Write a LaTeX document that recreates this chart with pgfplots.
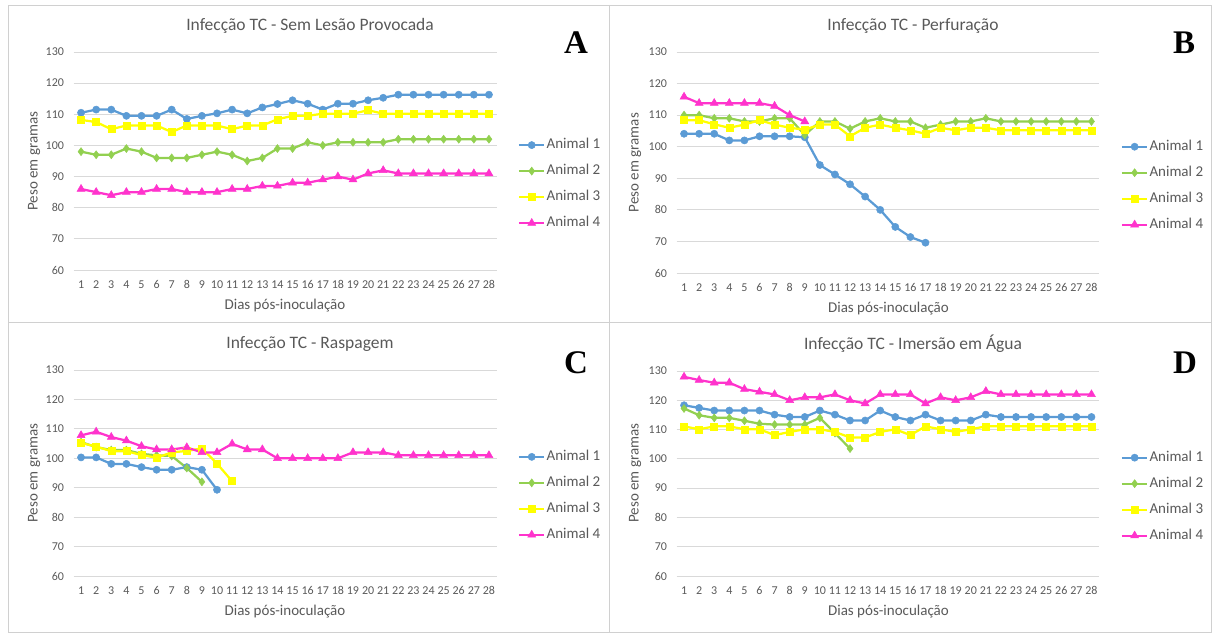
\documentclass[border=0pt]{standalone}
\usepackage{fontspec}
\setmainfont{Carlito}
\newfontfamily\letterfont{Liberation Serif}
\usepackage{pgfplots}
\pgfplotsset{compat=1.18}
\definecolor{c1}{HTML}{5B9BD5}
\definecolor{c2}{HTML}{92D050}
\definecolor{c3}{HTML}{FFFF00}
\definecolor{c4}{HTML}{FF33CC}
\definecolor{txt}{HTML}{595959}
\definecolor{gridc}{HTML}{D9D9D9}
\definecolor{borderc}{HTML}{D0D0D0}
\newcommand\fs[1]{\fontsize{#1}{#1}\selectfont}
\pgfplotsset{
  panel/.style={
    scale only axis, anchor=south west,
    xmin=0.5, xmax=28.5, ymin=60, ymax=130,
    xtick={1,...,28}, ytick={60,70,...,130},
    ymajorgrids, grid style={draw=gridc, line width=0.9pt},
    axis line style={draw=none}, major tick length=0pt,
    tick label style={font=\fs{12}, text=txt},
    /pgf/number format/assume math mode=true,
    yticklabel style={xshift=-6pt},
    xticklabel style={yshift=-7pt},
    clip=false,
    legend cell align=left,
    legend style={draw=none, fill=none, font=\fs{15}, text=txt, anchor=west,
      inner sep=0pt, row sep=0pt,
      nodes={inner xsep=1pt, inner ysep=5.5pt, text height=11pt, text depth=4pt}},
    legend image code/.code={\draw[mark repeat=2,mark phase=2] plot coordinates {(0pt,0pt)(12.75pt,0pt)(25.5pt,0pt)};},
  },
  s1/.style={color=c1, line width=2.25pt, mark=*, mark size=3.6pt, mark options={line width=0.5pt}},
  s2/.style={color=c2, line width=2.25pt, mark=diamond*, mark size=4pt, mark options={line width=0.5pt}},
  s3/.style={color=c3, line width=2.25pt, mark=square*, mark size=3.5pt, mark options={line width=0.5pt}},
  s4/.style={color=c4, line width=2.25pt, mark=triangle*, mark size=4.6pt, mark options={line width=0.5pt}},
}
\begin{document}
\begin{tikzpicture}[x=1pt,y=1pt]
\useasboundingbox (0,0) rectangle (1217,635);
\draw[borderc, line width=0.9pt] (8,630) rectangle (1211,3);
\draw[borderc, line width=0.9pt] (609,630) -- (609,3);
\draw[borderc, line width=0.9pt] (8,313) -- (1211,313);

% ---------- A ----------
\begin{axis}[panel, at={(73.5pt,365pt)}, width=423pt, height=218pt,
  legend style={at={(1.05,0.394)}}]
\addplot[s1] coordinates {(1,110.5)(2,111.5)(3,111.5)(4,109.5)(5,109.5)(6,109.5)(7,111.5)(8,108.5)(9,109.5)(10,110.3)(11,111.5)(12,110.3)(13,112.2)(14,113.3)(15,114.5)(16,113.4)(17,111.5)(18,113.4)(19,113.4)(20,114.5)(21,115.3)(22,116.3)(23,116.3)(24,116.3)(25,116.3)(26,116.3)(27,116.3)(28,116.3)};
\addplot[s2] coordinates {(1,98)(2,97)(3,97)(4,99)(5,98)(6,96)(7,96)(8,96)(9,97)(10,98)(11,97)(12,95)(13,96)(14,99)(15,99)(16,101)(17,100)(18,101)(19,101)(20,101)(21,101)(22,102)(23,102)(24,102)(25,102)(26,102)(27,102)(28,102)};
\addplot[s3] coordinates {(1,108.2)(2,107.5)(3,105.2)(4,106.4)(5,106.4)(6,106.4)(7,104.3)(8,106.4)(9,106.4)(10,106.4)(11,105.2)(12,106.4)(13,106.4)(14,108.4)(15,109.5)(16,109.5)(17,110.2)(18,110.2)(19,110.2)(20,111.3)(21,110.2)(22,110.2)(23,110.2)(24,110.2)(25,110.2)(26,110.2)(27,110.2)(28,110.2)};
\addplot[s4] coordinates {(1,86)(2,85)(3,84)(4,85)(5,85)(6,86)(7,86)(8,85)(9,85)(10,85)(11,86)(12,86)(13,87)(14,87)(15,88)(16,88)(17,89)(18,90)(19,89)(20,91)(21,92)(22,91)(23,91)(24,91)(25,91)(26,91)(27,91)(28,91)};
\legend{Animal 1,Animal 2,Animal 3,Animal 4}
\end{axis}

% ---------- B ----------
\begin{axis}[panel, at={(676.5pt,362pt)}, width=422.5pt, height=221pt,
  legend style={at={(1.051,0.395)}}]
\addplot[s1] coordinates {(1,104.1)(2,104.1)(3,104.1)(4,102)(5,102)(6,103.3)(7,103.3)(8,103.3)(9,103)(10,94.2)(11,91.2)(12,88.1)(13,84.2)(14,80)(15,74.6)(16,71.4)(17,69.6)};
\addplot[s2] coordinates {(1,110)(2,110)(3,109)(4,109)(5,108)(6,108)(7,109)(8,109)(9,103.7)(10,108)(11,108)(12,105.7)(13,108)(14,109)(15,108)(16,108)(17,106)(18,107)(19,108)(20,108)(21,109)(22,108)(23,108)(24,108)(25,108)(26,108)(27,108)(28,108)};
\addplot[s3] coordinates {(1,108.4)(2,108.4)(3,107.1)(4,106)(5,107)(6,108.4)(7,107)(8,106)(9,105.4)(10,107)(11,107)(12,103.3)(13,106)(14,107)(15,106)(16,105.2)(17,104.1)(18,106)(19,105.2)(20,106)(21,106)(22,105.2)(23,105.2)(24,105.2)(25,105.2)(26,105.2)(27,105.2)(28,105.2)};
\addplot[s4] coordinates {(1,115.8)(2,113.8)(3,113.8)(4,113.8)(5,113.8)(6,113.8)(7,112.9)(8,110)(9,108)};
\legend{Animal 1,Animal 2,Animal 3,Animal 4}
\end{axis}

% ---------- C ----------
\begin{axis}[panel, at={(73.5pt,59pt)}, width=423pt, height=206pt,
  legend style={at={(1.05,0.389)}}]
\addplot[s1] coordinates {(1,100.3)(2,100.3)(3,98.1)(4,98.1)(5,97)(6,96.1)(7,96.1)(8,97)(9,96.1)(10,89.3)};
\addplot[s2] coordinates {(1,105.5)(2,103.8)(3,102.8)(4,102.8)(5,101.5)(6,101)(7,100.8)(8,96.7)(9,92)};
\addplot[s3] coordinates {(1,105.2)(2,104)(3,102.4)(4,102.4)(5,101.1)(6,100.2)(7,102)(8,102.5)(9,103.4)(10,98.2)(11,92.2)};
\addplot[s4] coordinates {(1,107.8)(2,109)(3,107.2)(4,106)(5,104.1)(6,103)(7,103)(8,103.7)(9,102)(10,102)(11,104.9)(12,103)(13,103)(14,100)(15,100)(16,100)(17,100)(18,100)(19,102)(20,102)(21,102)(22,101)(23,101)(24,101)(25,101)(26,101)(27,101)(28,101)};
\legend{Animal 1,Animal 2,Animal 3,Animal 4}
\end{axis}

% ---------- D ----------
\begin{axis}[panel, at={(676.5pt,59pt)}, width=422.5pt, height=205pt,
  legend style={at={(1.051,0.387)}}]
\addplot[s1] coordinates {(1,118.3)(2,117.4)(3,116.5)(4,116.5)(5,116.5)(6,116.5)(7,115.1)(8,114.3)(9,114.3)(10,116.5)(11,115.1)(12,113.1)(13,113.1)(14,116.5)(15,114.3)(16,113.1)(17,115.1)(18,113.1)(19,113.1)(20,113.1)(21,115.1)(22,114.3)(23,114.3)(24,114.3)(25,114.3)(26,114.3)(27,114.3)(28,114.3)};
\addplot[s2] coordinates {(1,117.2)(2,114.9)(3,114)(4,114)(5,113)(6,112)(7,111.7)(8,111.7)(9,111.7)(10,114)(11,108.8)(12,103.5)};
\addplot[s3] coordinates {(1,111.1)(2,110.1)(3,111.1)(4,111.1)(5,110.1)(6,110.1)(7,108.1)(8,109.2)(9,110.1)(10,110.1)(11,109.2)(12,107.3)(13,107.3)(14,109.2)(15,110.1)(16,108.1)(17,111.1)(18,110.1)(19,109.2)(20,110.1)(21,111.1)(22,111.1)(23,111.1)(24,111.1)(25,111.1)(26,111.1)(27,111.1)(28,111.1)};
\addplot[s4] coordinates {(1,128)(2,126.9)(3,126)(4,126)(5,123.8)(6,122.9)(7,122)(8,120)(9,121)(10,121)(11,122)(12,120)(13,118.9)(14,122)(15,122)(16,122)(17,118.9)(18,121)(19,120)(20,121)(21,123.1)(22,122)(23,122)(24,122)(25,122)(26,122)(27,122)(28,122)};
\legend{Animal 1,Animal 2,Animal 3,Animal 4}
\end{axis}

% ---------- titles, labels, letters ----------
\begin{scope}[every node/.style={text=txt}]
\node[font=\fs{17.5}] at (310,609) {Infecção TC - Sem Lesão Provocada};
\node[font=\fs{17.5}] at (913,609) {Infecção TC - Perfuração};
\node[font=\fs{17.5}] at (310,291) {Infecção TC - Raspagem};
\node[font=\fs{17.5}] at (913,291) {Infecção TC - Imersão em Água};
\node[font=\fs{15}] at (285,329) {Dias pós-inoculação};
\node[font=\fs{15}] at (888.5,326.7) {Dias pós-inoculação};
\node[font=\fs{15}] at (285,23.7) {Dias pós-inoculação};
\node[font=\fs{15}] at (888.5,23.7) {Dias pós-inoculação};
\node[font=\fs{15}, rotate=90] at (34,474) {Peso em gramas};
\node[font=\fs{15}, rotate=90] at (635,472.3) {Peso em gramas};
\node[font=\fs{15}, rotate=90] at (34,162) {Peso em gramas};
\node[font=\fs{15}, rotate=90] at (635,162) {Peso em gramas};
\end{scope}
\node[font=\letterfont\bfseries\fs{33}] at (576,592) {A};
\node[font=\letterfont\bfseries\fs{33}] at (1184,592) {B};
\node[font=\letterfont\bfseries\fs{33}] at (576,272) {C};
\node[font=\letterfont\bfseries\fs{33}] at (1185,272) {D};
\end{tikzpicture}
\end{document}
